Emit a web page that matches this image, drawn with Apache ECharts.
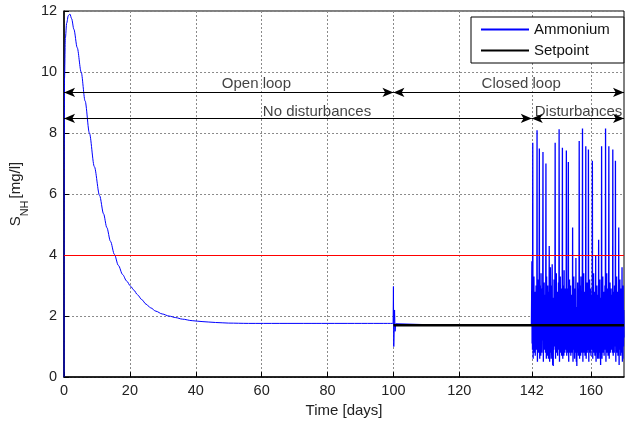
<!DOCTYPE html>
<html>
<head>
<meta charset="utf-8">
<script src="https://cdn.jsdelivr.net/npm/echarts@6/dist/echarts.min.js"></script>
<style>html,body{margin:0;padding:0;background:#fff}#c{width:625px;height:423px}</style>
</head>
<body>
<div id="c"></div>
<script>
// ---- data ----
const xTicks = [0, 20, 40, 60, 80, 100, 120, 142, 160];
const yTicks = [0, 2, 4, 6, 8, 10, 12];
const legendNames = ['Ammonium', 'Setpoint'];

const startupPhase = [
  [0, 0], [0.05, 7.5], [0.15, 9.8], [0.4, 11.1], [0.8, 11.6], [1.3, 11.85], [1.8, 11.9],
  [2.3, 11.75], [3, 11.4], [4, 10.8], [5.2, 10.0], [6.4, 9.05], [7.7, 8.0], [9.2, 6.9],
  [10.8, 5.95], [12, 5.35], [13, 4.9], [14.1, 4.45], [15.3, 4.02], [16.5, 3.66], [17.8, 3.36],
  [19, 3.15], [20.2, 2.98], [21.2, 2.85], [22.3, 2.7], [23.6, 2.54], [24.9, 2.39], [26.3, 2.27],
  [27.9, 2.16], [29.8, 2.07], [31.9, 2.0], [33.9, 1.95], [35.9, 1.9], [38.9, 1.85], [41.9, 1.82],
  [46, 1.79], [50, 1.77], [56, 1.76], [75, 1.76], [99.9, 1.76]
];
const switchPhase = [
  [99.9, 1.76], [100, 2.97], [100.1, 1.0], [100.2, 0.95], [100.35, 2.2], [100.5, 1.5], [100.7, 1.75],
  [101, 1.7], [110, 1.72], [125, 1.72], [141.9, 1.72]
];
const disturbedPhase = [
  [142.0,1.72],[142.04,3.8],[142.1,1.1],[142.16,2.6],[142.22,0.9],[142.3,7.68],[142.36,2.1],[142.42,0.6],
  [142.5,2.9],[142.58,1.0],[142.66,3.3],[142.74,0.8],[142.82,2.4],[142.9,1.2],[142.98,2.8],[143.06,0.7],
  [143.14,2.2],[143.22,1.0],[143.3,3.0],[143.38,0.9],[143.46,2.5],[143.53,1.3],[143.6,8.09],[143.66,2.0],
  [143.72,0.5],[143.8,2.7],[143.88,1.1],[143.96,3.2],[144.04,0.8],[144.12,2.4],[144.2,1.4],[144.3,7.49],
  [144.36,1.8],[144.42,0.6],[144.5,3.0],[144.58,1.0],[144.66,2.6],[144.74,0.7],[144.82,3.4],[144.9,1.1],
  [144.98,2.3],[145.06,0.8],[145.14,2.9],[145.22,1.2],[145.3,2.1],[145.4,7.38],[145.46,1.9],[145.52,0.5],
  [145.6,2.8],[145.68,1.0],[145.76,3.1],[145.84,0.9],[145.92,2.5],[146.0,1.3],[146.08,2.7],[146.16,0.8],
  [146.22,2.0],[146.3,7.0],[146.36,1.7],[146.42,0.6],[146.5,3.3],[146.58,1.0],[146.66,2.6],[146.74,0.7],
  [146.82,3.0],[146.9,1.1],[146.98,2.4],[147.06,0.6],[147.14,2.8],[147.22,1.0],[147.3,4.3],[147.36,1.4],
  [147.42,0.5],[147.5,2.5],[147.58,0.8],[147.66,3.6],[147.74,1.0],[147.82,2.2],[147.9,0.6],[147.98,3.0],
  [148.06,1.1],[148.14,2.4],[148.2,3.7],[148.28,0.9],[148.36,0.4],[148.44,2.1],[148.52,0.36],[148.6,2.6],
  [148.68,0.9],[148.76,3.2],[148.84,1.0],[148.92,2.5],[149.0,1.3],[149.1,7.68],[149.16,2.0],[149.22,0.6],
  [149.3,2.9],[149.38,1.0],[149.46,3.4],[149.54,0.8],[149.62,2.4],[149.7,1.2],[149.78,2.8],[149.86,0.7],
  [149.94,2.3],[150.02,1.0],[150.1,3.1],[150.18,0.9],[150.24,2.2],[150.3,8.12],[150.36,1.9],[150.42,0.5],
  [150.5,2.8],[150.58,1.1],[150.66,3.3],[150.74,0.8],[150.82,2.5],[150.9,1.2],[150.98,2.9],[151.06,0.7],
  [151.14,2.4],[151.22,1.3],[151.3,7.52],[151.36,1.7],[151.42,0.6],[151.5,3.0],[151.58,1.0],[151.66,2.6],
  [151.74,0.7],[151.82,3.5],[151.9,1.1],[151.98,2.3],[152.06,0.8],[152.14,2.9],[152.22,1.0],[152.3,2.2],
  [152.38,0.9],[152.44,2.6],[152.5,7.43],[152.56,1.6],[152.62,0.7],[152.7,2.9],[152.78,1.0],[152.86,2.4],
  [152.94,0.8],[153.02,2.0],[153.1,7.05],[153.16,1.8],[153.22,0.5],[153.3,2.8],[153.38,1.0],[153.46,3.2],
  [153.54,0.8],[153.62,2.5],[153.7,1.1],[153.78,3.0],[153.86,0.7],[153.94,2.3],[154.02,1.0],[154.1,2.7],
  [154.18,0.8],[154.26,2.1],[154.34,1.2],[154.4,4.9],[154.46,1.4],[154.52,0.5],[154.6,2.6],[154.68,0.9],
  [154.76,3.3],[154.84,1.0],[154.92,2.2],[155.0,0.6],[155.08,2.9],[155.16,1.1],[155.24,2.4],[155.32,0.8],
  [155.4,3.9],[155.46,1.2],[155.52,0.5],[155.6,2.3],[155.68,0.36],[155.76,2.0],[155.84,0.8],[155.92,3.1],
  [156.0,1.0],[156.08,2.6],[156.16,0.7],[156.24,2.9],[156.32,1.3],[156.4,7.74],[156.46,1.9],[156.52,0.6],
  [156.6,3.0],[156.68,1.0],[156.76,2.5],[156.84,0.7],[156.92,3.3],[157.0,1.1],[157.08,2.4],[157.16,0.8],
  [157.24,2.8],[157.32,1.2],[157.4,8.15],[157.46,2.0],[157.52,0.5],[157.6,2.9],[157.68,1.1],[157.76,3.4],
  [157.84,0.8],[157.92,2.5],[158.0,1.2],[158.08,2.8],[158.16,0.7],[158.24,2.3],[158.32,1.0],[158.4,7.57],
  [158.46,1.7],[158.52,0.6],[158.6,2.7],[158.68,1.0],[158.76,3.1],[158.84,0.8],[158.92,2.4],[159.0,1.2],
  [159.08,2.9],[159.14,0.9],[159.2,7.46],[159.26,1.6],[159.32,0.5],[159.4,2.8],[159.48,1.0],[159.56,3.2],
  [159.64,0.8],[159.72,2.5],[159.8,1.1],[159.88,2.9],[159.96,0.7],[160.04,2.3],[160.12,1.0],[160.2,2.7],
  [160.28,0.9],[160.34,2.1],[160.4,7.09],[160.46,1.8],[160.52,0.6],[160.6,2.6],[160.68,1.0],[160.76,3.4],
  [160.84,0.8],[160.92,2.4],[161.0,1.1],[161.08,2.8],[161.16,0.7],[161.24,2.2],[161.32,1.0],[161.4,4.0],
  [161.46,1.3],[161.52,0.5],[161.6,2.5],[161.68,0.8],[161.76,3.0],[161.84,1.0],[161.92,2.3],[162.0,0.6],
  [162.08,2.7],[162.16,1.1],[162.24,2.0],[162.3,4.5],[162.36,1.2],[162.42,0.6],[162.5,2.4],[162.58,0.9],
  [162.66,3.2],[162.74,0.8],[162.82,2.1],[162.9,0.4],[162.98,2.6],[163.06,1.0],[163.14,2.3],[163.2,7.57],
  [163.26,1.8],[163.32,0.6],[163.4,2.9],[163.48,1.0],[163.56,3.3],[163.64,0.8],[163.72,2.5],[163.8,1.2],
  [163.88,2.8],[163.96,0.7],[164.04,2.2],[164.12,1.0],[164.2,3.0],[164.28,0.9],[164.34,2.3],[164.4,8.15],
  [164.46,2.0],[164.52,0.5],[164.6,2.9],[164.68,1.1],[164.76,3.4],[164.84,0.8],[164.92,2.6],[165.0,1.2],
  [165.08,2.9],[165.16,0.7],[165.24,2.4],[165.32,1.1],[165.4,7.57],[165.46,1.7],[165.52,0.6],[165.6,2.7],
  [165.68,1.0],[165.76,3.1],[165.84,0.8],[165.92,2.5],[166.0,1.1],[166.08,2.9],[166.16,0.9],[166.24,2.3],
  [166.32,1.0],[166.4,2.7],[166.48,0.8],[166.54,2.2],[166.6,7.46],[166.66,1.6],[166.72,0.7],[166.8,2.8],
  [166.88,1.0],[166.96,2.4],[167.04,0.8],[167.12,3.0],[167.2,1.1],[167.28,2.2],[167.34,1.0],[167.4,7.09],
  [167.46,1.6],[167.52,0.5],[167.6,2.9],[167.68,1.0],[167.76,3.3],[167.84,0.8],[167.92,2.6],[168.0,1.1],
  [168.08,2.8],[168.16,0.7],[168.24,2.3],[168.32,1.0],[168.4,4.9],[168.46,1.3],[168.52,0.4],[168.6,2.5],
  [168.68,0.9],[168.76,3.2],[168.84,1.0],[168.92,2.4],[169.0,0.7],[169.08,2.9],[169.16,1.1],[169.24,2.3],
  [169.32,0.8],[169.4,3.6],[169.46,1.2],[169.52,0.5],[169.6,2.4],[169.68,0.6],[169.76,3.0],[169.84,1.0],
  [169.92,2.2],[170,1.3]
];
const setpointData = [[100, 1.7], [170, 1.7]];
const limitValue = 4;

// annotation arrows: [x0, x1, y]
const arrowSpans = [[0, 100, 9.33], [100, 170, 9.33], [0, 142, 8.48], [142, 170, 8.48]];
const annotationTexts = ['Open loop', 'Closed loop', 'No disturbances', 'Disturbances'];
const annotationPos = [[58.4, 9.6], [138.8, 9.6], [76.8, 8.68], [156.2, 8.68]];

// ---- chart ----
const FONT = 'Liberation Sans, Arial, Helvetica, sans-serif';
const chart = echarts.init(document.getElementById('c'), null, {renderer: 'canvas'});
const gridLine = {show: true, lineStyle: {color: '#8a8a8a', type: [2, 2], width: 1}};

chart.setOption({
  animation: false,
  backgroundColor: '#fff',
  textStyle: {fontFamily: FONT},
  grid: {left: 61, right: 1, top: 11, bottom: 44, show: true, borderColor: '#000', borderWidth: 1, containLabel: false},
  legend: {
    data: legendNames, orient: 'vertical', left: 471, top: 17,
    backgroundColor: '#fff', borderColor: '#000', borderWidth: 1,
    padding: [5, 14, 5, 9], itemWidth: 48, itemHeight: 14, itemGap: 6,
    itemStyle: {opacity: 0},
    textStyle: {fontSize: 15, color: '#111', fontFamily: FONT}
  },
  xAxis: [{
    type: 'value', min: 0, max: 170,
    axisLine: {show: true, onZero: false, lineStyle: {color: '#000', width: 1.5}},
    axisTick: {show: true, inside: true, length: 5, customValues: xTicks, lineStyle: {color: '#000'}},
    axisLabel: {customValues: xTicks, fontSize: 14.5, color: '#222', margin: 6, fontFamily: FONT},
    splitLine: gridLine,
    name: 'Time [days]', nameLocation: 'middle', nameGap: 23,
    nameTextStyle: {fontSize: 15, color: '#222', fontFamily: FONT}
  }],
  yAxis: [{
    type: 'value', min: 0, max: 12, interval: 2,
    axisLine: {show: true, onZero: false, lineStyle: {color: '#000', width: 1.5}},
    axisTick: {show: true, inside: true, length: 5, lineStyle: {color: '#000'}},
    axisLabel: {fontSize: 14.5, color: '#222', margin: 7, fontFamily: FONT, customValues: yTicks},
    splitLine: gridLine,
    name: '{s|S}{sub|NH}{s|[mg/l]}', nameLocation: 'middle', nameGap: 34, nameRotate: 90,
    nameTextStyle: {
      color: '#222', fontFamily: FONT,
      rich: {
        s: {fontSize: 15, color: '#222', fontFamily: FONT, lineHeight: 22, verticalAlign: 'top'},
        sub: {fontSize: 11, color: '#222', fontFamily: FONT, lineHeight: 22, verticalAlign: 'bottom', padding: [0, 2, 0, 0]}
      }
    }
  }],
  series: [
    {
      name: 'Ammonium', type: 'line', data: startupPhase, showSymbol: false, symbol: 'none',
      smooth: 0.3, smoothMonotone: 'x',
      lineStyle: {color: '#0000ff', width: 1}, itemStyle: {color: '#0000ff'},
      markLine: {
        silent: true, symbol: ['none', 'none'], label: {show: false},
        lineStyle: {color: '#ff0000', width: 1, type: 'solid'},
        data: [[{coord: [0, limitValue]}, {coord: [170, limitValue]}]]
      }, z: 3
    },
    {
      name: 'Ammonium', type: 'line', data: switchPhase, showSymbol: false, symbol: 'none',
      lineStyle: {color: '#0000ff', width: 1}, itemStyle: {color: '#0000ff'}, z: 3
    },
    {
      name: 'Ammonium', type: 'line', data: [switchPhase[switchPhase.length - 1]].concat(disturbedPhase),
      showSymbol: false, symbol: 'none',
      lineStyle: {color: '#0000ff', width: 1.3}, itemStyle: {color: '#0000ff'}, z: 3
    },
    {
      name: 'Setpoint', type: 'line', data: setpointData, showSymbol: false, symbol: 'none',
      lineStyle: {color: '#000', width: 2.5}, itemStyle: {color: '#000'}, z: 4
    },
    {
      name: 'annotations', type: 'scatter', symbolSize: 0, z: 5,
      data: annotationTexts.map((t, i) => ({name: t, value: annotationPos[i]})),
      label: {show: true, position: 'inside', formatter: p => p.name, fontSize: 15, color: '#111', fontFamily: FONT},
      markLine: {
        silent: true, symbol: ['arrow', 'arrow'], symbolSize: [7, 11], label: {show: false},
        lineStyle: {color: '#000', width: 1, type: 'solid'},
        data: arrowSpans.map(a => [{coord: [a[0], a[2]]}, {coord: [a[1], a[2]]}])
      }
    }
  ]
});
</script>
</body>
</html>
